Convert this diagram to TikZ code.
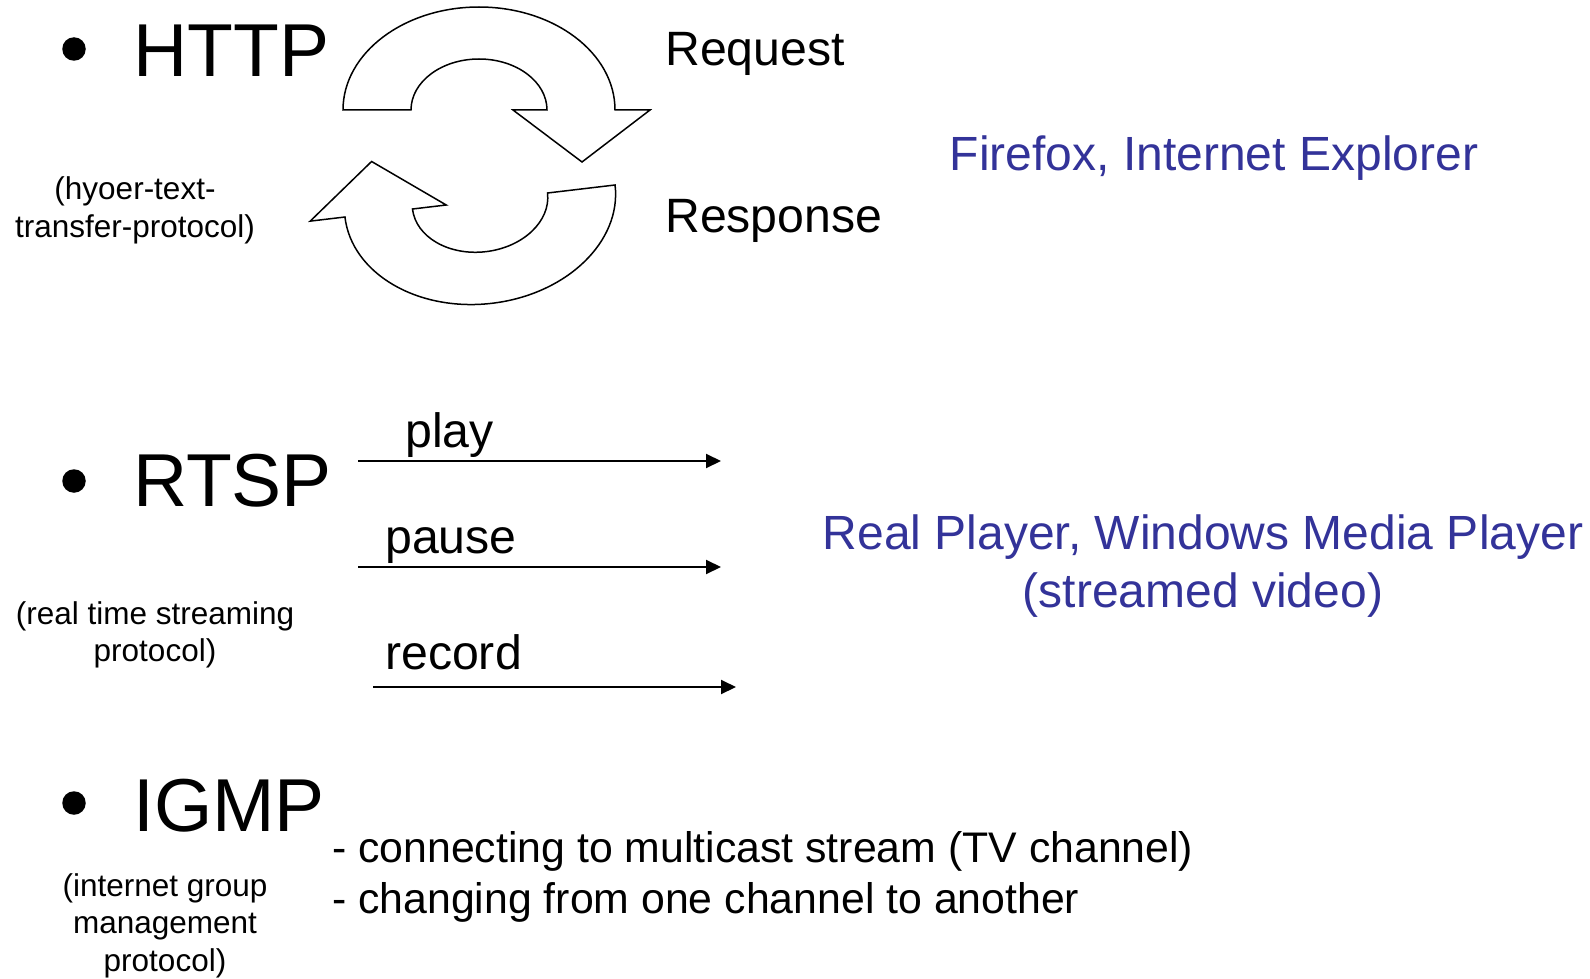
\documentclass[tikz,border=0pt]{standalone}
\usepackage{fontspec}
\setmainfont{Liberation Sans}
\usetikzlibrary{arrows.meta}
\definecolor{appblue}{RGB}{51,51,153}
\begin{document}
\begin{tikzpicture}[x=1pt,y=-1pt,
  title/.style={anchor=base west,inner sep=0pt,font=\fontsize{75}{90}\selectfont},
  sub/.style={anchor=base,inner sep=0pt,align=center,font=\fontsize{31.5}{37.5}\selectfont},
  label/.style={anchor=base west,inner sep=0pt,font=\fontsize{48.2}{56}\selectfont},
  app/.style={anchor=base,inner sep=0pt,align=center,text=appblue,font=\fontsize{48}{58}\selectfont},
  item/.style={anchor=base west,inner sep=0pt,font=\fontsize{42.8}{51}\selectfont},
  bulletdot/.style={circle,fill=black,inner sep=0pt,minimum size=23.5pt},
  cyclearrow/.style={draw=black,line width=1.5pt,fill=white,line join=miter},
  cmdarrow/.style={line width=2pt,-{Triangle[length=15pt,width=14pt]}}]
\useasboundingbox (0,0) rectangle (1590,979);

% HTTP
\node[bulletdot] (b1) at (74,49) {};
\node[title] (http) at (133,77) {HTTP};
\node[sub] (httpsub) at (135,237) {(hyoer-text-\\transfer-protocol)};
\begin{scope}[shift={(479,110)}]
  \draw[cyclearrow] (-68,0) -- (-136,0)
    arc[start angle=180,end angle=360,x radius=136,y radius=103]
    -- (171,0) -- (103,52) -- (34,0) -- (68,0)
    arc[start angle=0,end angle=-180,x radius=68,y radius=51] -- cycle;
\end{scope}
\begin{scope}[shift={(480,201)},rotate=186.76]
  \draw[cyclearrow] (-68,0) -- (-136,0)
    arc[start angle=180,end angle=360,x radius=136,y radius=103]
    -- (171,0) -- (103,52) -- (34,0) -- (68,0)
    arc[start angle=0,end angle=-180,x radius=68,y radius=51] -- cycle;
\end{scope}
\node[label] (req) at (665,66) {Request};
\node[label] (resp) at (665,232) {Response};
\node[app] (ff) at (1214,171) {Firefox, Internet Explorer};

% RTSP
\node[bulletdot] (b2) at (74,481) {};
\node[title] (rtsp) at (133,506) {RTSP};
\node[sub] (rtspsub) at (155,661.5) {(real time streaming\\protocol)};
\node[label] (play) at (405,447) {play};
\node[label] (pause) at (385,553) {pause};
\node[label] (record) at (385,669) {record};
\coordinate (p1) at (358,461);
\coordinate (p2) at (721,461);
\coordinate (q1) at (358,567);
\coordinate (q2) at (721,567);
\coordinate (r1) at (373,687);
\coordinate (r2) at (736,687);
\draw[cmdarrow] (p1) -- (p2);
\draw[cmdarrow] (q1) -- (q2);
\draw[cmdarrow] (r1) -- (r2);
\node[app] (rp) at (1203,607) {Real Player, Windows Media Player\\(streamed video)};

% IGMP
\node[bulletdot] (b3) at (74,803) {};
\node[title] (igmp) at (133,831) {IGMP};
\node[sub] (igmpsub) at (165,971) {(internet group\\management\\protocol)};
\node[item] (l1) at (332,862) {- connecting to multicast stream (TV channel)};
\node[item] (l2) at (332,913) {- changing from one channel to another};
\end{tikzpicture}
\end{document}
